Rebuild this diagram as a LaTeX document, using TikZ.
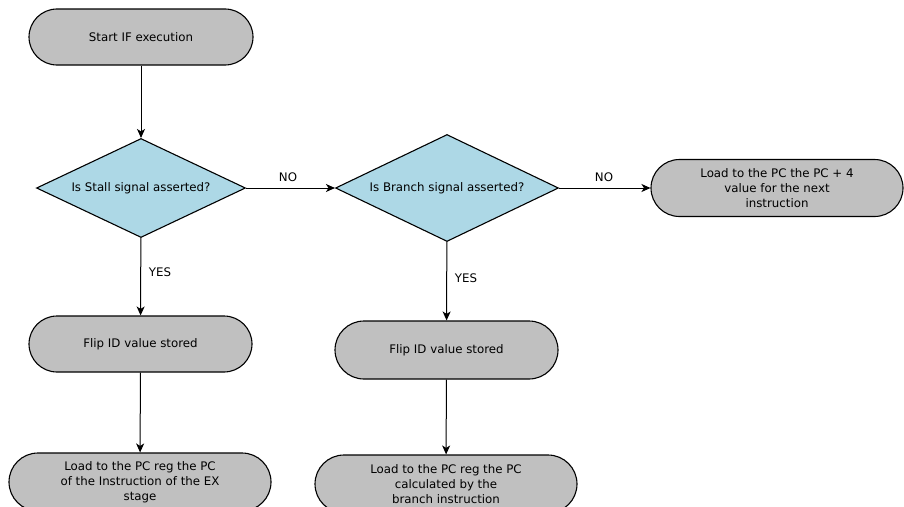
\documentclass[tikz,border=0pt]{standalone}
\usepackage{fontspec}
\setmainfont{DejaVu Sans}
\usetikzlibrary{shapes.geometric,arrows.meta}
\definecolor{pillgray}{HTML}{C0C0C0}
\definecolor{decblue}{HTML}{ADD8E6}
\tikzset{
  pill/.style n args={2}{draw=black, line width=1.1pt, fill=pillgray,
    rounded corners=#2/2, minimum width=#1, minimum height=#2,
    inner sep=0pt, align=center},
  decision/.style n args={2}{diamond, draw=black, line width=1.1pt, fill=decblue,
    shape aspect=2.1, minimum width=#1, minimum height=#2, inner sep=0pt},
  flow/.style={draw=black, line width=1pt, -{Stealth[length=9pt,width=8pt,inset=2.5pt]}},
  lbl/.style={inner sep=0pt}
}
\begin{document}
\begin{tikzpicture}[x=1pt, y=-1pt, font=\fontsize{11.8}{15}\selectfont]
\useasboundingbox (0,0) rectangle (904,506);

% start and decisions
\node[pill={224}{56}] (start) at (141,37) {Start IF execution};
\node[decision={209}{99}] (stall) at (141,188) {Is Stall signal asserted?};
\node[decision={223}{107}] (branch) at (447,188) {Is Branch signal asserted?};
\node[pill={252}{57}] (next) at (777,188) {Load to the PC the PC + 4\\value for the next\\instruction};

% stall path
\node[pill={223}{56}] (flipA) at (140.5,344) {Flip ID value stored};
\node[pill={262}{58}] (loadA) at (140,482) {Load to the PC reg the PC\\of the Instruction of the EX\\stage};

% branch path
\node[pill={223}{58}] (flipB) at (446.5,350) {Flip ID value stored};
\node[pill={262}{58}] (loadB) at (446,484) {Load to the PC reg the PC\\calculated by the\\branch instruction};

% connectors
\draw[flow] (start) -- (stall);
\draw[flow] (stall) -- (branch);
\draw[flow] (branch) -- (next);
\draw[flow] (stall) -- (flipA);
\draw[flow] (flipA) -- (loadA);
\draw[flow] (branch) -- (flipB);
\draw[flow] (flipB) -- (loadB);

% branch labels
\node[lbl] (noA) at (288,177) {NO};
\node[lbl] (noB) at (604,177) {NO};
\node[lbl] (yesA) at (160,272) {YES};
\node[lbl] (yesB) at (466,278) {YES};
\end{tikzpicture}
\end{document}
